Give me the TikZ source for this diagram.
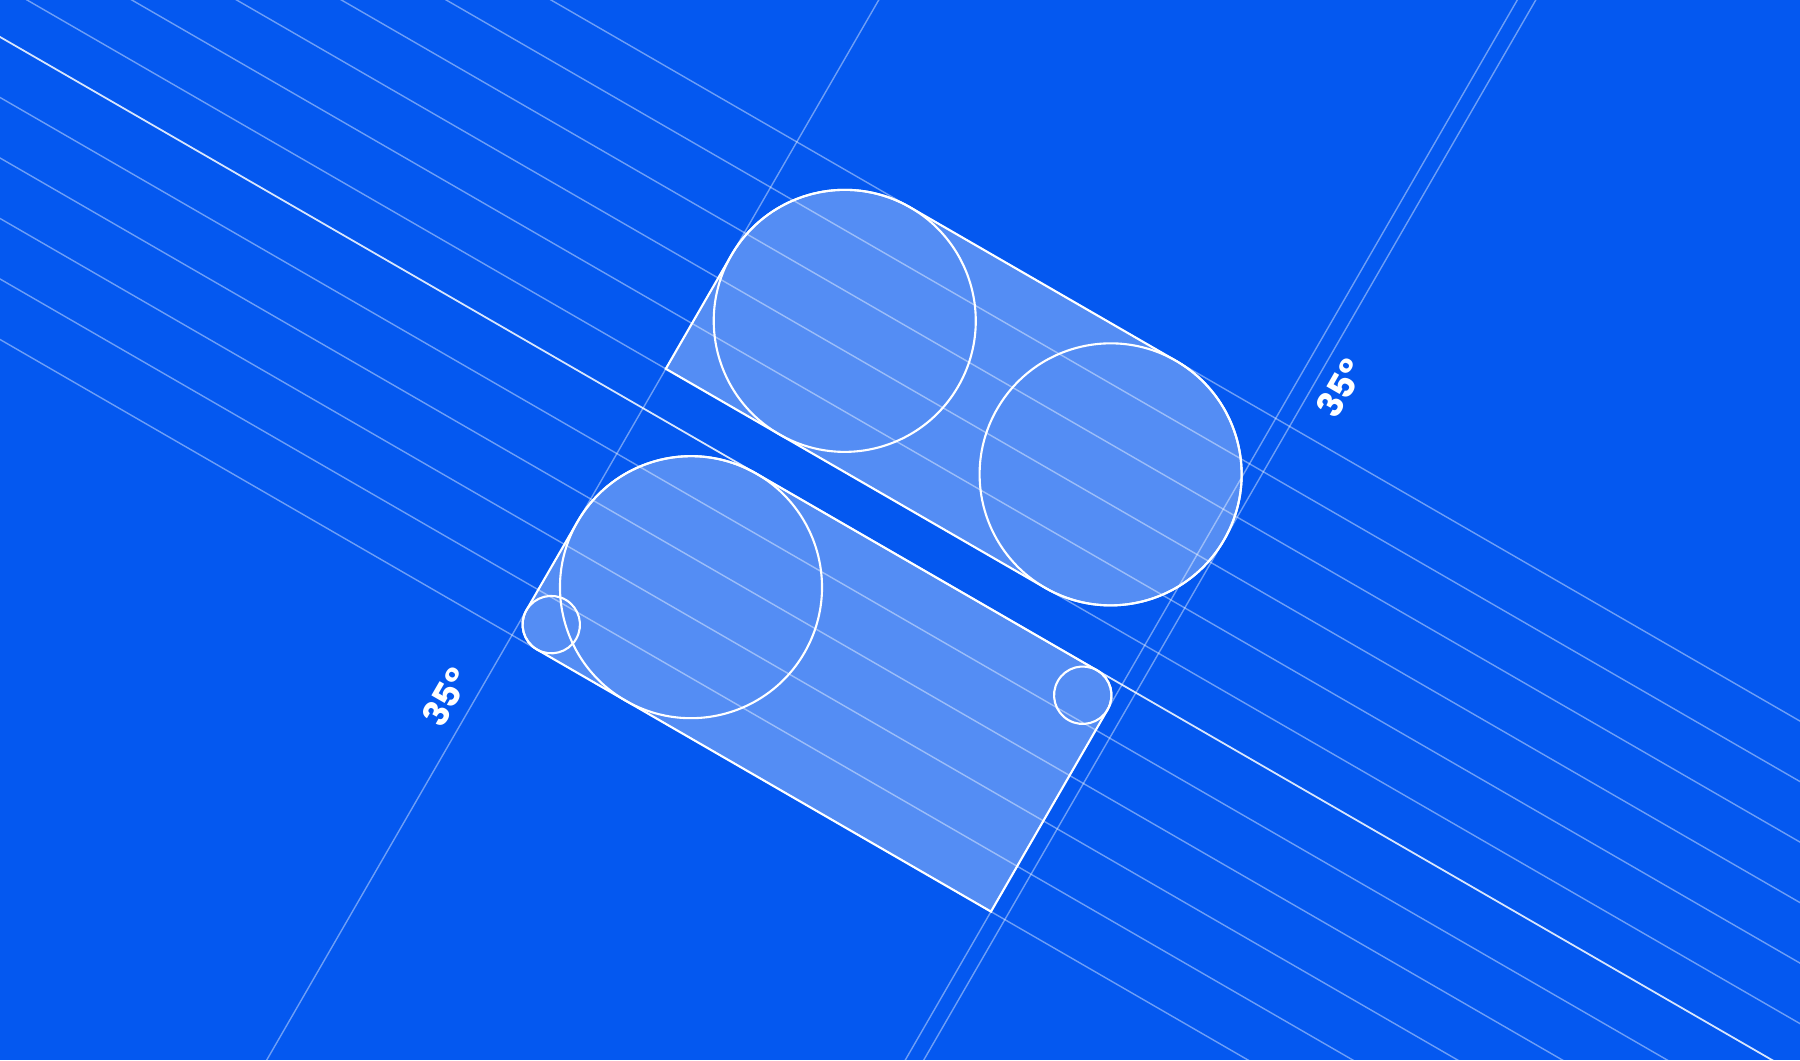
\documentclass[tikz,border=0pt]{standalone}
\usepackage{fontspec}
\newfontfamily\anglefont{Poppins}
\definecolor{bgblue}{RGB}{4,88,240}

\begin{document}
\begin{tikzpicture}[x=0.01cm,y=0.01cm,
  guide/.style={draw=white,draw opacity=0.42,line width=0.4pt},
  keyline/.style={draw=white,draw opacity=0.85,line width=0.5pt},
  plate/.style={fill=white,fill opacity=0.32,draw=white,line width=0.6pt},
  ring/.style={draw=white,line width=0.6pt},
  anglelabel/.style={text=white,font=\anglefont\bfseries\fontsize{10}{10}\selectfont,rotate=60,inner sep=0pt}]

\fill[bgblue] (0,0) rectangle (1800,1060);
\clip (0,0) rectangle (1800,1060);

\begin{scope}[shift={(0,1060)},rotate=-30]

% guides along the bands
\path[guide] (-100,275.5)--(2200,275.5);
\path[guide] (-100,223.1)--(2200,223.1);
\path[guide] (-100,170.7)--(2200,170.7);
\path[guide] (-100,118.3)--(2200,118.3);
\path[guide] (-100,65.9)--(2200,65.9);
\path[guide] (-100,13.5)--(2200,13.5);
\path[keyline] (-100,-32)--(2200,-32);
\path[guide] (-100,-84.4)--(2200,-84.4);
\path[guide] (-100,-136.8)--(2200,-136.8);
\path[guide] (-100,-189.2)--(2200,-189.2);
\path[guide] (-100,-241.6)--(2200,-241.6);
\path[guide] (-100,-294)--(2200,-294);

% guides across
\path[guide] (761,-1000)--(761,1000);
\path[guide] (1314,-1000)--(1314,1000);
\path[guide] (1330,-1000)--(1330,1000);

% plates
\path[plate]%
(761,13.5)--(761,144.5) arc[start angle=180,end angle=90,radius=131]
--(1199,275.5) arc[start angle=90,end angle=-90,radius=131]--cycle;
\path[plate]%
(789.7,-294)--(1314,-294)--(1314,-60.7) arc[start angle=0,end angle=90,radius=28.7]
--(892,-32) arc[start angle=90,end angle=180,radius=131]
--(761,-265.3) arc[start angle=180,end angle=270,radius=28.7]--cycle;

% circles
\path[ring] (892,144.5) circle[radius=131];
\path[ring] (1199,144.5) circle[radius=131];
\path[ring] (892,-163) circle[radius=131];
\path[ring] (789.7,-265.3) circle[radius=28.7];
\path[ring] (1285.3,-60.7) circle[radius=28.7];

\node[anglelabel] (angle1) at (1355,334.5) {35°};
\node[anglelabel] (angle2) at (734.7,-380.6) {35°};

\end{scope}
\end{tikzpicture}
\end{document}
